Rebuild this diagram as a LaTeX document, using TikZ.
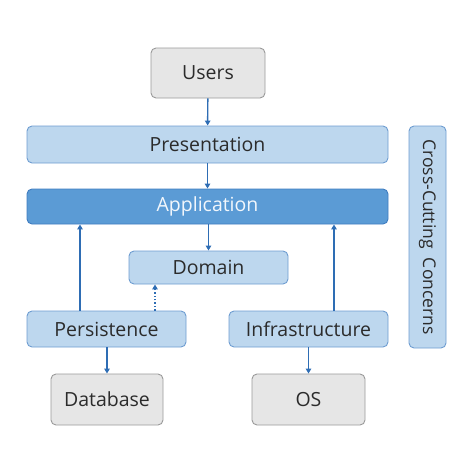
\documentclass[tikz,border=0pt]{standalone}
\usepackage{fontspec}
\setmainfont{Open Sans}
\usetikzlibrary{arrows.meta}
\definecolor{grayfill}{HTML}{E6E6E6}
\definecolor{graydraw}{HTML}{9A9A9A}
\definecolor{bluefill}{HTML}{BDD7EE}
\definecolor{bluedraw}{HTML}{6E9DD1}
\definecolor{appfill}{HTML}{5B9BD5}
\definecolor{appdraw}{HTML}{3F7CC0}
\definecolor{arrowc}{HTML}{2E6DB4}
\definecolor{txt}{HTML}{2B2B2B}
\tikzset{
  box/.style={rounded corners=5pt, line width=0.9pt, inner sep=0pt, font=\fontsize{19.5}{22}\selectfont, text=txt},
  graybox/.style={box, fill=grayfill, draw=graydraw},
  bluebox/.style={box, fill=bluefill, draw=bluedraw},
  appbox/.style={box, fill=appfill, draw=appdraw, text=white!92!appfill},
  arr/.style={draw=arrowc, line width=1.4pt, -{Triangle[length=5pt,width=5.5pt]}},
  darr/.style={arr, dotted},
}
\begin{document}
\begin{tikzpicture}[x=1pt,y=-1pt]
\useasboundingbox (0,0) rectangle (474,474);
\node[graybox, minimum width=114pt, minimum height=50pt] (users) at (208,73) {Users};
\node[bluebox, minimum width=361pt, minimum height=37pt] (pres) at (207.5,144.5) {Presentation};
\node[appbox, minimum width=361pt, minimum height=35pt] (app) at (207.5,206.5) {Application};
\node[bluebox, minimum width=159pt, minimum height=33pt] (dom) at (208.5,267.5) {Domain};
\node[bluebox, minimum width=159pt, minimum height=36pt] (pers) at (106.5,329) {Persistence};
\node[bluebox, minimum width=159pt, minimum height=36pt] (infra) at (308.5,329) {Infrastructure};
\node[graybox, minimum width=112pt, minimum height=51pt] (db) at (107,399.5) {Database};
\node[graybox, minimum width=113pt, minimum height=51pt] (os) at (308.5,399.5) {OS};
\node[bluebox, minimum width=222pt, minimum height=37pt, rotate=-90, font=\fontsize{17.5}{20}\selectfont] (cc) at (427.5,237) {Cross-Cutting\ \ Concerns};
\draw[arr] (users) -- (pres);
\draw[arr] (pres) -- (app);
\draw[arr] (app.south -| dom.north) -- (dom);
\draw[arr] ([xshift=-26.5pt]pers.north) -- ([xshift=-26.5pt]pers.north |- app.south);
\draw[darr] ([xshift=48.5pt]pers.north) -- ([xshift=48.5pt]pers.north |- dom.south);
\draw[arr] ([xshift=25.5pt]infra.north) -- ([xshift=25.5pt]infra.north |- app.south);
\draw[arr] (pers.south -| db.north) -- (db);
\draw[arr] (infra) -- (os);
\end{tikzpicture}
\end{document}
